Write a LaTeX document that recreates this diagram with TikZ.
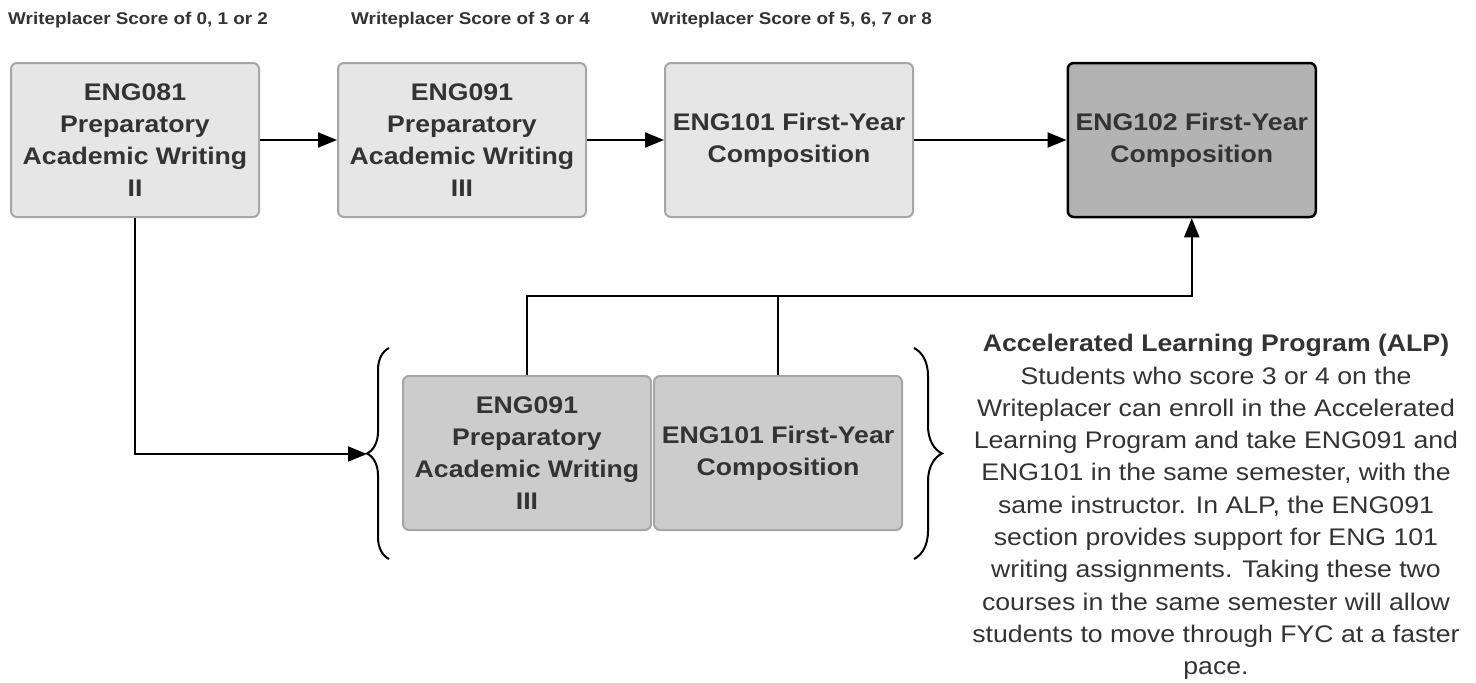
\documentclass[tikz,border=0pt]{standalone}
\usepackage{fontspec}
\setmainfont[FakeStretch=1.11]{Liberation Sans}
\usetikzlibrary{arrows.meta,positioning,decorations.pathreplacing}
\definecolor{txtgray}{HTML}{333333}
\definecolor{boxlight}{HTML}{E6E6E6}
\definecolor{boxmid}{HTML}{CCCCCC}
\definecolor{boxdark}{HTML}{B3B3B3}
\definecolor{edgegray}{HTML}{A6A6A6}
\tikzstyle{course}=[draw=edgegray,line width=2pt,rounded corners=6pt,fill=boxlight,minimum width=248pt,minimum height=154pt,align=center,text=txtgray,inner sep=0pt,font=\fontsize{24}{32}\selectfont\bfseries]
\tikzstyle{alpcourse}=[course,fill=boxmid]
\tikzstyle{goal}=[course,draw=black,line width=2.5pt,fill=boxdark]
\tikzstyle{score}=[anchor=west,text=txtgray,inner sep=0pt,font=\fontsize{17}{20}\selectfont\bfseries]
\tikzstyle{arrow}=[line width=2pt,-{Triangle[length=19pt,width=15pt]},draw=black]
\tikzstyle{bracket}=[line width=2pt,decorate]

\begin{document}
\begin{tikzpicture}[x=1pt,y=-1pt]
            \useasboundingbox (0,0) rectangle (1476,683);

            \node (score0) [score] at (8,20) {Writeplacer Score of 0, 1 or 2};
            \node (score3) [score] at (351,20) {Writeplacer Score of 3 or 4};
            \node (score5) [score] at (651,20) {Writeplacer Score of 5, 6, 7 or 8};

            \node (eng081) [course] at (135,140) {ENG081\\Preparatory\\Academic Writing\\II};
            \node (eng091) [course] [right=77pt of eng081] {ENG091\\Preparatory\\Academic Writing\\III};
            \node (eng101) [course] [right=77pt of eng091] {ENG101 First-Year\\Composition};
            \node (eng102) [goal] [right=152.5pt of eng101] {ENG102 First-Year\\Composition};

            \node (alp091) [alpcourse] at (527,453) {ENG091\\Preparatory\\Academic Writing\\III};
            \node (alp101) [alpcourse] [right=1pt of alp091] {ENG101 First-Year\\Composition};

            \node (alptext) [text=txtgray,align=center,inner sep=0pt,font=\fontsize{24}{32.3}\selectfont] at (1216,507)
                {\textbf{Accelerated Learning Program (ALP)}\\
                 Students who score 3 or 4 on the\\
                 Writeplacer can enroll in the Accelerated\\
                 Learning Program and take ENG091 and\\
                 ENG101 in the same semester, with the\\
                 same instructor. In ALP, the ENG091\\
                 section provides support for ENG 101\\
                 writing assignments. Taking these two\\
                 courses in the same semester will allow\\
                 students to move through FYC at a faster\\
                 pace.};

            \draw[bracket,decoration={brace,amplitude=22pt}] (389,559) -- (389,348);
            \draw[bracket,decoration={brace,amplitude=28pt}] (914,348) -- (914,559);
            \coordinate (bracetip) at (367,454);
            \coordinate (alpjoin) at (eng102.south |- 0,296);

            \draw[arrow] (eng081) -- (eng091);
            \draw[arrow] (eng091) -- (eng101);
            \draw[arrow] (eng101) -- (eng102);
            \draw[arrow] (eng081.south) |- (bracetip);
            \draw[arrow] (alp091.north) |- (alpjoin) -- (eng102.south);
            \draw[line width=2pt] (alp101.north) -- (alp101.north |- alpjoin);
\end{tikzpicture}
\end{document}
